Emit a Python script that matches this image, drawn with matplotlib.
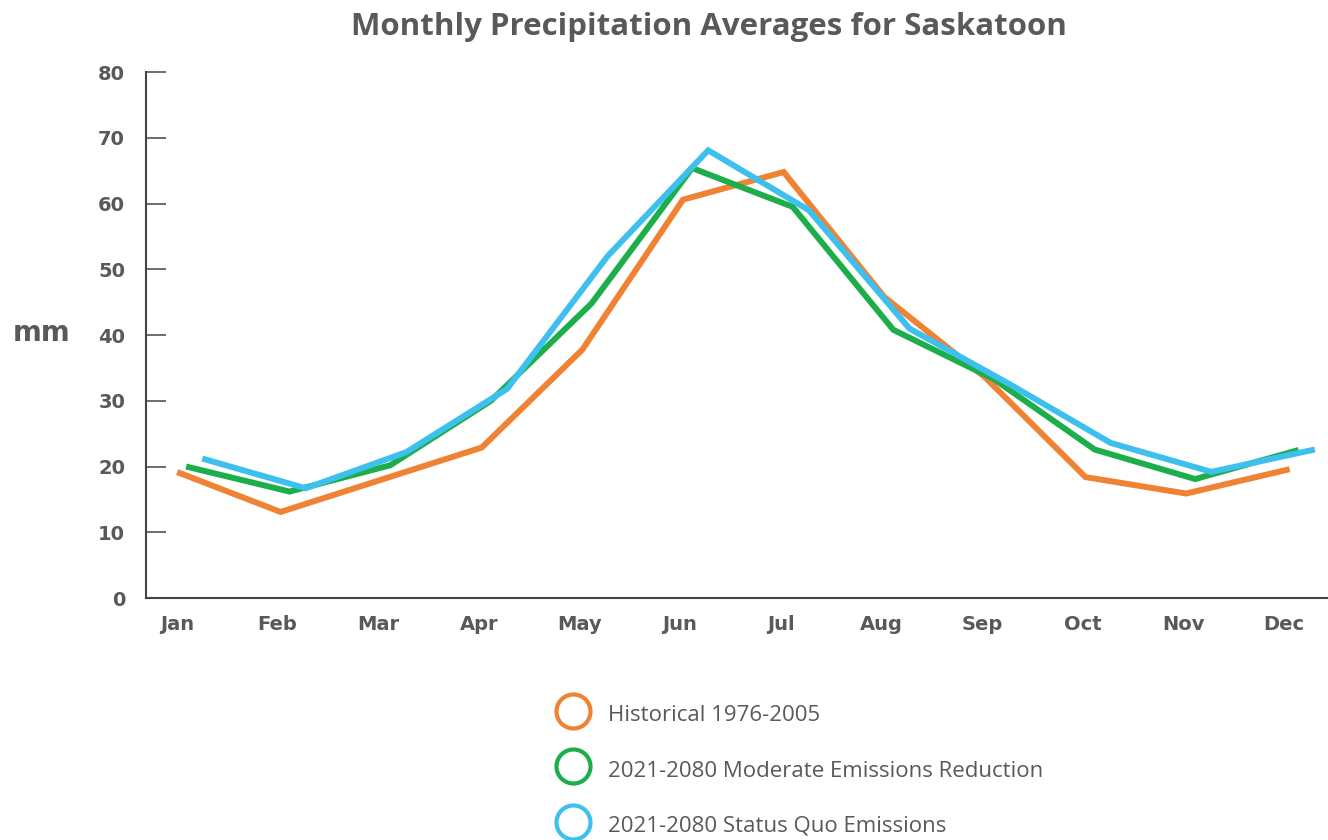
import numpy as np
import matplotlib.pyplot as plt
from matplotlib.lines import Line2D

# Monthly precipitation (mm)
months = ['Jan', 'Feb', 'Mar', 'Apr', 'May', 'Jun',
          'Jul', 'Aug', 'Sep', 'Oct', 'Nov', 'Dec']
historical = [19.0, 13.1, 18.0, 22.9, 37.8, 60.6, 64.8, 45.8, 33.6, 18.4, 15.9, 19.5]
moderate = [19.9, 16.2, 20.2, 30.0, 44.8, 65.4, 59.5, 40.8, 33.3, 22.6, 18.1, 22.4]
status_quo = [21.1, 16.7, 22.2, 31.8, 52.0, 68.1, 59.0, 41.0, 32.5, 23.6, 19.2, 22.5]

labels = ['Historical 1976-2005',
          '2021-2080 Moderate Emissions Reduction',
          '2021-2080 Status Quo Emissions']
colors = ['#EF8233', '#1BAE4B', '#3EC0EE']
offsets = [0.03, 0.12, 0.28]  # the original lines sit slightly right of the month labels

text_col = '#58595b'
plt.rcParams['font.family'] = ['Open Sans', 'DejaVu Sans']
bold_font = {'family': 'DejaVu Sans', 'weight': 'bold'}

fig = plt.figure(figsize=(13.28, 8.4), dpi=100)
ax = fig.add_axes([0.1099, 0.288, 0.8901, 0.6262])

x = np.arange(len(months))
for vals, col, off in zip([historical, moderate, status_quo], colors, offsets):
    ax.plot(x + off, vals, color=col, lw=4.3, solid_joinstyle='miter')

ax.set_xlim(-0.308, 11.44)
ax.set_ylim(0, 80)
ax.set_yticks(range(0, 81, 10))
ax.set_xticks(x)
ax.set_xticklabels(months)

for s in ['top', 'right']:
    ax.spines[s].set_visible(False)
for s in ['left', 'bottom']:
    ax.spines[s].set_color('#444444')
    ax.spines[s].set_linewidth(1.5)

ax.tick_params(axis='y', direction='in', length=14.4, width=1.1, color='#444444',
               pad=15, labelcolor=text_col)
ax.tick_params(axis='x', length=0, pad=12, labelcolor=text_col)
for lab in ax.get_xticklabels() + ax.get_yticklabels():
    lab.set_fontfamily('DejaVu Sans')
    lab.set_fontweight('bold')
    lab.set_fontsize(14)

fig.text(0.534, 0.968, 'Monthly Precipitation Averages for Saskatoon',
         ha='center', va='center', fontsize=22.5, fontweight='bold', color=text_col)
fig.text(0.031, 0.603, 'mm', ha='center', va='center', fontsize=20,
         color=text_col, fontdict=bold_font)

handles = [Line2D([], [], ls='none', marker='o', markersize=24.5, markerfacecolor='white',
                  markeredgecolor=c, markeredgewidth=3) for c in colors]
leg = ax.legend(handles, labels, loc='upper left', bbox_to_anchor=(0.404, 0.19),
                bbox_transform=fig.transFigure, frameon=False, fontsize=16,
                handlelength=1.5, handleheight=1.5, handletextpad=0.8,
                labelspacing=1.27)
for t in leg.get_texts():
    t.set_color(text_col)

fig.savefig('out.png', dpi=100)
